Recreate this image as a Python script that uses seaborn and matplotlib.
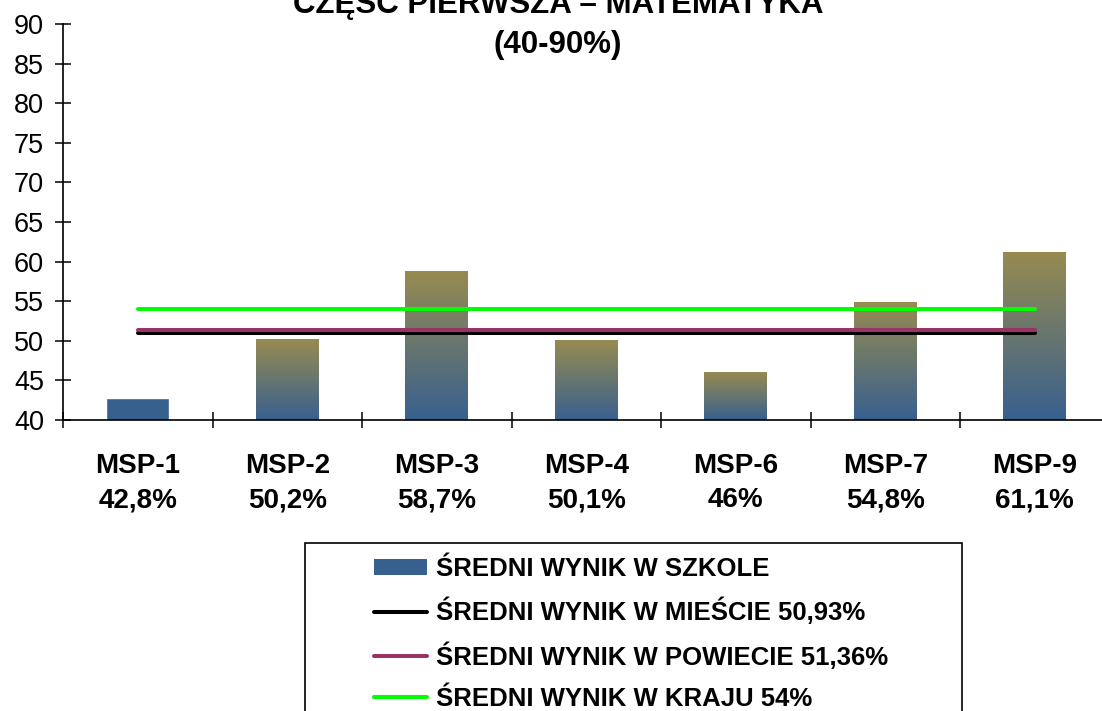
import matplotlib
matplotlib.use('Agg')
import matplotlib.pyplot as plt
import seaborn as sns
import numpy as np
import pandas as pd
from matplotlib.colors import LinearSegmentedColormap
from matplotlib.patches import Patch, Rectangle
from matplotlib.lines import Line2D
from matplotlib.ticker import FixedLocator, MultipleLocator

# data
schools = ['MSP-1', 'MSP-2', 'MSP-3', 'MSP-4', 'MSP-6', 'MSP-7', 'MSP-9']
school_scores = [42.8, 50.2, 58.7, 50.1, 46.0, 54.8, 61.1]
city_avg = 50.93
county_avg = 51.36
country_avg = 54.0

BLUE = '#38608F'
OLIVE = '#978B50'


def pl(v):
    """Polish number format: 42.8 -> 42,8"""
    return f"{v:g}".replace('.', ',')


sns.set_style('white')
plt.rcParams['font.family'] = ['Liberation Sans', 'DejaVu Sans']
plt.rcParams['text.color'] = 'black'
plt.rcParams['xtick.color'] = 'black'
plt.rcParams['ytick.color'] = 'black'
plt.rcParams['axes.labelcolor'] = 'black'

fig = plt.figure(figsize=(11.02, 7.11), dpi=100)
ax = fig.add_axes([63 / 1102, 1 - 420 / 711, 1046.5 / 1102, 396 / 711])

df = pd.DataFrame({'school': schools, 'score': school_scores})
sns.barplot(data=df, x='school', y='score', color=BLUE, width=0.42,
            saturation=1, ax=ax, zorder=2)

# vertical gradient inside the taller bars (blue at base -> olive at top)
cmap = LinearSegmentedColormap.from_list('bar', [BLUE, OLIVE])
grad = np.linspace(0, 1, 256).reshape(-1, 1)
for bar in ax.patches:
    x0, w, h = bar.get_x(), bar.get_width(), bar.get_height()
    if h - 40 > 4:
        ax.imshow(grad, extent=[x0, x0 + w, 40, h], origin='lower',
                  aspect='auto', cmap=cmap, zorder=2.1)

xs = list(range(len(schools)))
lines = pd.DataFrame({
    'x': xs * 3,
    'y': [city_avg] * len(xs) + [county_avg] * len(xs) + [country_avg] * len(xs),
    'kind': ['city'] * len(xs) + ['county'] * len(xs) + ['country'] * len(xs),
})
line_colors = {'city': 'black', 'county': '#993366', 'country': '#00FF00'}
sns.lineplot(data=lines, x='x', y='y', hue='kind', palette=line_colors,
             linewidth=2.9, legend=False, ax=ax, zorder=3)

ax.set_xlim(-0.5, len(schools) - 0.5)
ax.set_ylim(40, 90)
ax.set_xlabel('')
ax.set_ylabel('')

ax.set_xticks(xs)
ax.set_xticklabels([f"{s}\n{pl(v)}%" for s, v in zip(schools, school_scores)],
                   fontsize=20, fontweight='bold', linespacing=1.4)
ax.xaxis.set_minor_locator(FixedLocator(np.arange(-0.5, len(schools), 1)))
ax.tick_params(axis='x', which='major', length=0, pad=24)
ax.tick_params(axis='x', which='minor', direction='inout', length=11.5,
               width=1.1, color='black', bottom=True)
ax.yaxis.set_major_locator(MultipleLocator(5))
ax.tick_params(axis='y', which='major', direction='inout', length=11.5,
               width=1.1, color='black', labelsize=19.5, pad=8, left=True)

for side in ['top', 'right']:
    ax.spines[side].set_visible(False)
for side in ['left', 'bottom']:
    ax.spines[side].set_color('black')
    ax.spines[side].set_linewidth(1.2)

fig.text(558 / 1102, 1 - 13 / 711, 'CZĘŚĆ PIERWSZA – MATEMATYKA',
         ha='center', va='baseline', fontsize=22.5, fontweight='bold')
fig.text(558 / 1102, 1 - 53 / 711, '(40-90%)',
         ha='center', va='baseline', fontsize=22.5, fontweight='bold')

# legend with a frame running off the bottom edge
fig.add_artist(Rectangle((305 / 1102, -0.1), (962 - 305) / 1102,
                         (711 - 543) / 711 + 0.1, transform=fig.transFigure,
                         fill=False, edgecolor='black', linewidth=1.2))
handles = [
    Patch(facecolor=BLUE, edgecolor='none'),
    Line2D([], [], color='black', linewidth=2.9),
    Line2D([], [], color='#993366', linewidth=2.9),
    Line2D([], [], color='#00FF00', linewidth=2.9),
]
labels = [
    'ŚREDNI WYNIK W SZKOLE',
    f'ŚREDNI WYNIK W MIEŚCIE {pl(city_avg)}%',
    f'ŚREDNI WYNIK W POWIECIE {pl(county_avg)}%',
    f'ŚREDNI WYNIK W KRAJU {pl(country_avg)}%',
]
fig.legend(handles, labels, loc='upper left',
           bbox_to_anchor=(374 / 1102, 1 - 557 / 711), frameon=False,
           borderpad=0, borderaxespad=0, handlelength=2.06, handleheight=0.6,
           handletextpad=0.35, labelspacing=0.66,
           prop={'size': 18.5, 'weight': 'bold'})

fig.savefig('out.png', dpi=100)
plt.close(fig)
